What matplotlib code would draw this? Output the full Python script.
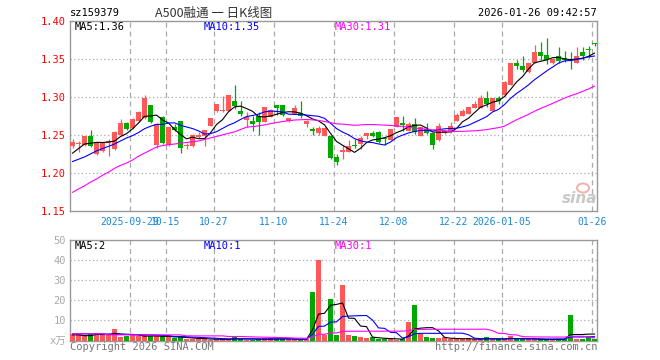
import matplotlib
matplotlib.use('Agg')
import matplotlib.pyplot as plt
import numpy as np

plt.rcParams['font.family'] = ['DejaVu Sans Mono', 'Noto Sans CJK SC']

# ---- data ----
opens = [1.235, 1.238, 1.237, 1.248, 1.225, 1.229, 1.239, 1.232, 1.250, 1.265,
         1.259, 1.268, 1.272, 1.289, 1.237, 1.274, 1.237, 1.260, 1.268, 1.235,
         1.235, 1.247, 1.248, 1.262, 1.281, 1.281, 1.282, 1.294, 1.282, 1.269,
         1.268, 1.275, 1.267, 1.274, 1.289, 1.289, 1.268, 1.277, 1.279, 1.264,
         1.258, 1.252, 1.248, 1.248, 1.221, 1.228, 1.227, 1.237, 1.238, 1.248,
         1.252, 1.254, 1.246, 1.243, 1.261, 1.265, 1.255, 1.264, 1.249, 1.258,
         1.252, 1.243, 1.253, 1.255, 1.268, 1.275, 1.278, 1.285, 1.285, 1.298,
         1.282, 1.298, 1.302, 1.316, 1.344, 1.340, 1.332, 1.345, 1.359, 1.355,
         1.345, 1.354, 1.351, 1.350, 1.345, 1.359, 1.362, 1.371]
highs = [1.244, 1.242, 1.248, 1.257, 1.240, 1.240, 1.245, 1.255, 1.271, 1.267,
         1.272, 1.281, 1.303, 1.289, 1.265, 1.275, 1.261, 1.264, 1.268, 1.239,
         1.251, 1.254, 1.256, 1.272, 1.290, 1.301, 1.302, 1.315, 1.295, 1.280,
         1.275, 1.280, 1.287, 1.284, 1.289, 1.289, 1.272, 1.289, 1.295, 1.269,
         1.261, 1.262, 1.260, 1.248, 1.225, 1.237, 1.243, 1.245, 1.248, 1.253,
         1.255, 1.255, 1.247, 1.258, 1.273, 1.275, 1.267, 1.272, 1.261, 1.266,
         1.253, 1.266, 1.256, 1.267, 1.279, 1.284, 1.287, 1.294, 1.303, 1.308,
         1.299, 1.301, 1.321, 1.344, 1.349, 1.354, 1.345, 1.368, 1.372, 1.377,
         1.351, 1.365, 1.360, 1.359, 1.365, 1.365, 1.367, 1.371]
lows = [1.233, 1.228, 1.236, 1.234, 1.224, 1.228, 1.222, 1.230, 1.249, 1.257,
        1.258, 1.267, 1.271, 1.265, 1.233, 1.238, 1.235, 1.255, 1.226, 1.232,
        1.234, 1.246, 1.236, 1.262, 1.280, 1.280, 1.282, 1.284, 1.275, 1.261,
        1.255, 1.250, 1.267, 1.274, 1.276, 1.275, 1.267, 1.277, 1.272, 1.261,
        1.250, 1.250, 1.248, 1.218, 1.211, 1.218, 1.227, 1.233, 1.232, 1.245,
        1.247, 1.239, 1.237, 1.243, 1.260, 1.255, 1.255, 1.251, 1.249, 1.251,
        1.231, 1.242, 1.251, 1.253, 1.268, 1.275, 1.278, 1.285, 1.285, 1.287,
        1.282, 1.290, 1.301, 1.316, 1.336, 1.332, 1.331, 1.345, 1.349, 1.343,
        1.343, 1.345, 1.346, 1.337, 1.345, 1.349, 1.351, 1.367]
closes = [1.240, 1.239, 1.248, 1.235, 1.239, 1.239, 1.242, 1.254, 1.265, 1.258,
          1.271, 1.280, 1.298, 1.267, 1.264, 1.239, 1.260, 1.256, 1.233, 1.236,
          1.250, 1.250, 1.256, 1.272, 1.290, 1.282, 1.302, 1.288, 1.277, 1.274,
          1.264, 1.267, 1.286, 1.283, 1.285, 1.276, 1.272, 1.285, 1.275, 1.268,
          1.255, 1.259, 1.259, 1.219, 1.215, 1.230, 1.236, 1.235, 1.246, 1.252,
          1.248, 1.241, 1.245, 1.258, 1.273, 1.263, 1.264, 1.254, 1.261, 1.253,
          1.237, 1.262, 1.255, 1.262, 1.276, 1.281, 1.286, 1.291, 1.298, 1.291,
          1.299, 1.295, 1.319, 1.344, 1.340, 1.335, 1.345, 1.359, 1.354, 1.349,
          1.350, 1.347, 1.349, 1.349, 1.353, 1.354, 1.361, 1.370]
# volume, in 10k
volumes = [3.3, 3.3, 2.5, 3, 3, 3, 3.3, 5.5, 1.5, 2,
           2.8, 2, 2.5, 2, 2, 2, 2, 1, 1.7, 0.8,
           0.8, 1, 0.7, 0.4, 0.5, 0.5, 0.8, 1.7, 0.8, 0.4,
           0.4, 0.5, 1, 1, 0.8, 0.8, 0.7, 0.7, 0.4, 0.5,
           24, 40, 2.8, 20.5, 2.5, 27.5, 2.5, 2, 1.5, 1,
           1.5, 0.8, 0.7, 0.7, 0.4, 0.8, 9, 17.5, 3, 1.5,
           1, 1, 1.5, 0.7, 0.7, 0.5, 1, 0.7, 0.5, 1.5,
           0.5, 0.8, 0.5, 2, 0.8, 0.5, 0.5, 0.5, 0.7, 0.5,
           0.5, 0.7, 0.7, 12.5, 0.5, 0.5, 1.7, 0.8]

# moving-average values before the full window is available
ma5_head = [1.226, 1.232, 1.238, 1.239]
ma10_head = [1.215, 1.218, 1.221, 1.225, 1.229, 1.232, 1.235, 1.238, 1.242]
ma30_head = [1.1745, 1.179, 1.183, 1.188, 1.192, 1.197, 1.201, 1.206, 1.210, 1.213,
             1.217, 1.222, 1.226, 1.230, 1.234, 1.236, 1.237, 1.238, 1.239, 1.240,
             1.241, 1.242, 1.244, 1.246, 1.248, 1.250, 1.252, 1.254, 1.257]
vma5_head = [2.8, 2.8, 2.4, 2.4]
vma10_head = [3.3, 3.3, 3.3, 3.3, 3.3, 3.3, 3.2, 3.1, 3.0]
vma30_head = [3.3] * 6 + [2.8] * 13 + [2.3] * 7 + [2.0] * 3

tick_idx = [10, 16, 24, 34, 44, 54, 64, 72, 87]
tick_lab = ['2025-09-29', '10-15', '10-27', '11-10', '11-24', '12-08', '12-22', '2026-01-05', '01-26']


def mavg(vals, head, n):
    out = list(head)
    for i in range(n - 1, len(vals)):
        out.append(np.mean(vals[i - n + 1:i + 1]))
    return np.array(out)


RED = '#ff5858'
GREEN = '#00a800'
GRID = '#aaaaaa'
W, H = 660, 360

fig = plt.figure(figsize=(6.6, 3.6), dpi=100)
ax = fig.add_axes([70 / W, 1 - 211 / H, 527 / W, 190.3 / H])
ax2 = fig.add_axes([70 / W, 1 - 340.5 / H, 527 / W, 100.5 / H])

x = np.arange(len(closes))
o = np.array(opens)
c = np.array(closes)
up = c >= o
cols = [RED if u else GREEN for u in up]
bw = 5 / 6

# candles
ax.vlines(x, lows, highs, colors=cols, lw=0.9, zorder=3)
body_h = np.maximum(np.abs(c - o), 0.0012)
ax.bar(x, body_h, bottom=np.minimum(o, c), width=bw, color=cols, lw=0, zorder=4)

ax.plot(x, mavg(closes, ma5_head, 5), color='black', lw=0.8, zorder=5)
ax.plot(x, mavg(closes, ma10_head, 10), color='#0000ff', lw=0.8, zorder=5)
ax.plot(x, mavg(closes, ma30_head, 30), color='#ff00ff', lw=0.8, zorder=5)

# volume
ax2.bar(x, volumes, width=bw, color=cols, lw=0, zorder=3)
ax2.plot(x, mavg(volumes, vma5_head, 5), color='black', lw=0.8, zorder=5)
ax2.plot(x, mavg(volumes, vma10_head, 10), color='#0000ff', lw=0.8, zorder=5)
ax2.plot(x, mavg(volumes, vma30_head, 30), color='#ff00ff', lw=0.8, zorder=5)

xl = (-0.42, -0.42 + 527 / 6)
for a in (ax, ax2):
    a.set_xlim(*xl)
    for s in a.spines.values():
        s.set_color('#999999')
        s.set_linewidth(1)
    for t in tick_idx:
        a.axvline(t - 0.42, color=GRID, lw=0.9, ls=(0, (4, 3)), zorder=1)

ax.set_ylim(1.15, 1.40)
for yv in [1.20, 1.25, 1.30, 1.35]:
    ax.axhline(yv, color=GRID, lw=0.9, ls=(0, (1, 2)), zorder=1)
ax.set_yticks([1.15, 1.20, 1.25, 1.30, 1.35, 1.40])
ax.set_yticklabels(['%.2f' % v for v in [1.15, 1.20, 1.25, 1.30, 1.35, 1.40]])
ax.tick_params(axis='y', length=0, pad=3, labelcolor='red', labelsize=7.5)
ax.set_xticks([t - 0.42 for t in tick_idx])
ax.set_xticklabels(tick_lab)
ax.tick_params(axis='x', length=0, pad=4, labelcolor='#1a88d8', labelsize=7)

ax2.set_ylim(0, 50)
for yv in [10, 20, 30, 40]:
    ax2.axhline(yv, color=GRID, lw=0.9, ls=(0, (1, 2)), zorder=1)
ax2.set_yticks([0, 10, 20, 30, 40, 50])
ax2.set_yticklabels(['x万', '10', '20', '30', '40', '50'])
ax2.tick_params(axis='y', length=0, pad=3, labelcolor='#aaaaaa', labelsize=7.5)
ax2.set_xticks([])

# texts
def ftext(px, py, s, **kw):
    fig.text(px / W, 1 - py / H, s, va='center', **kw)

ftext(70, 13, 'sz159379', fontsize=7.5, color='black')
ftext(214, 13, 'A500融通 一 日K线图', fontsize=9, color='#333333', ha='center',
      family=['Noto Sans CJK SC', 'DejaVu Sans'])
ftext(597, 13, '2026-01-26 09:42:57', fontsize=7.5, color='black', ha='right')
ftext(75, 27, 'MA5:1.36', fontsize=7.5, color='black')
ftext(204, 27, 'MA10:1.35', fontsize=7.5, color='#0000ff')
ftext(335, 27, 'MA30:1.31', fontsize=7.5, color='#ff00ff')
ftext(75, 246, 'MA5:2', fontsize=7.5, color='black')
ftext(204, 246, 'MA10:1', fontsize=7.5, color='#0000ff')
ftext(335, 246, 'MA30:1', fontsize=7.5, color='#ff00ff')
ftext(70, 347, 'Copyright 2026 SINA.COM', fontsize=7.5, color='#777777')
ftext(597, 347, 'http://finance.sina.com.cn', fontsize=7.5, color='#777777', ha='right')

# sina watermark
fig.patches.append(matplotlib.patches.Ellipse((583 / W, 1 - 188 / H), 12 / W, 9 / H,
                                              transform=fig.transFigure, fc='none',
                                              ec='#f3b4b4', lw=1.5))
ftext(580, 198, 'sina', fontsize=11, color='#c8c8c8', ha='center', style='italic',
      weight='bold', family='DejaVu Sans')

fig.savefig('out.png', dpi=100)
